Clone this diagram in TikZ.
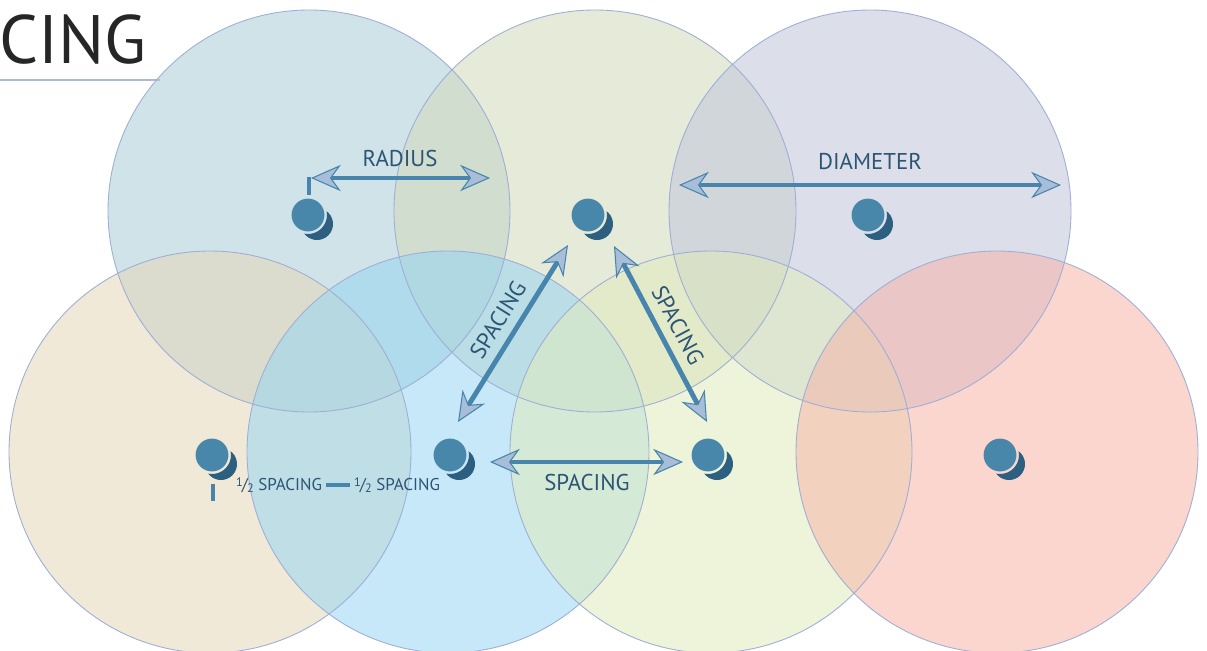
\documentclass[tikz,border=0pt]{standalone}
\usepackage{fontspec}
\setmainfont{PT Sans}
\usetikzlibrary{arrows.meta}

\definecolor{ringline}{RGB}{158,174,214}
\definecolor{ruleline}{RGB}{170,186,212}
\definecolor{shaft}{RGB}{72,133,172}
\definecolor{tipfill}{RGB}{168,189,216}
\definecolor{labeltext}{RGB}{44,84,116}
\definecolor{seedface}{RGB}{73,135,170}
\definecolor{seedshade}{RGB}{45,95,128}
\definecolor{zoneA}{RGB}{168,204,215}
\definecolor{zoneB}{RGB}{209,217,186}
\definecolor{zoneC}{RGB}{191,197,217}
\definecolor{zoneD}{RGB}{229,215,184}
\definecolor{zoneE}{RGB}{151,213,242}
\definecolor{zoneF}{RGB}{224,235,188}
\definecolor{zoneG}{RGB}{246,180,168}

\tikzset{
  zone/.style={fill=#1, fill opacity=0.55},
  rim/.style={draw=ringline, line width=0.5pt},
  measure/.style={draw=shaft, line width=2.8pt,
    {Stealth[length=17pt,width=15pt,inset=5.5pt,fill=tipfill,line width=0.6pt]}-{Stealth[length=17pt,width=15pt,inset=5.5pt,fill=tipfill,line width=0.6pt]}},
  tick/.style={draw=shaft, line width=2.8pt},
  tag/.style={text=labeltext, inner sep=0pt, font=\fontsize{13}{13}\selectfont},
  halftag/.style={text=labeltext, inner sep=0pt, font=\fontsize{9.7}{9.7}\selectfont},
  seed/.style={circle, fill=seedface, inner sep=0pt, minimum size=18.7pt},
}

% seed dot with its shaded crescent: name, position
\newcommand\seed[2]{%
  \begin{scope}[shift={#2}, even odd rule]
    \clip (-40,-40) rectangle (40,40) (0,0) circle (19);
    \fill[seedshade] (9,9) circle (16);
  \end{scope}
  \node[seed] (#1) at #2 {};}

\newcommand\half{\raisebox{0.45ex}{\scriptsize 1}\kern-0.05em/\kern-0.05em\raisebox{-0.25ex}{\scriptsize 2}}

\begin{document}
\begin{tikzpicture}[x=0.02cm,y=-0.02cm]
    \useasboundingbox (0,0) rectangle (1207,650);
    \clip (0,0) rectangle (1207,650);

    \node[anchor=base west, inner sep=0pt, text=black!85, font=\fontsize{39}{39}\selectfont] (title) at (-1,63) {CING};
    \draw[ruleline, line width=0.9pt] (0,80) -- (160,80);

    \coordinate (cA) at (309,211);
    \coordinate (cB) at (595,211);
    \coordinate (cC) at (870,211);
    \coordinate (cD) at (210,452);
    \coordinate (cE) at (448,452);
    \coordinate (cF) at (711,452);
    \coordinate (cG) at (997,452);

    \fill[zone=zoneA] (cA) circle (201);
    \fill[zone=zoneB] (cB) circle (201);
    \fill[zone=zoneC] (cC) circle (201);
    \fill[zone=zoneD] (cD) circle (201);
    \fill[zone=zoneE] (cE) circle (201);
    \fill[zone=zoneF] (cF) circle (201);
    \fill[zone=zoneG] (cG) circle (201);
    \draw[rim] (cA) circle (201) (cB) circle (201) (cC) circle (201)
               (cD) circle (201) (cE) circle (201) (cF) circle (201) (cG) circle (201);

    \seed{seedA}{(308,215)}
    \seed{seedB}{(588,215)}
    \seed{seedC}{(868,215)}
    \seed{seedD}{(212,455)}
    \seed{seedE}{(450,455)}
    \seed{seedF}{(708,455)}
    \seed{seedG}{(1000,455)}

    % radius
    \coordinate (radL) at (311,178);
    \coordinate (radR) at (490,178);
    \draw[tick] (309,195) -- (309,176.6);
    \draw[measure] (radL) -- (radR);
    \node[tag] (radius) at (400,158) {RADIUS};

    % diameter
    \coordinate (diaL) at (679,185);
    \coordinate (diaR) at (1061,185);
    \draw[measure] (diaL) -- (diaR);
    \node[tag] (diameter) at (870,161) {DIAMETER};

    % spacing between neighbours
    \coordinate (spLa) at (458,422);
    \coordinate (spLb) at (568,245);
    \draw[measure] (spLa) -- (spLb);
    \node[tag, rotate=58] (spaceL) at (498,320) {SPACING};

    \coordinate (spRa) at (614,246);
    \coordinate (spRb) at (707,422);
    \draw[measure] (spRa) -- (spRb);
    \node[tag, rotate=-62] (spaceR) at (678,325) {SPACING};

    \coordinate (spHa) at (490,462);
    \coordinate (spHb) at (683,462);
    \draw[measure] (spHa) -- (spHb);
    \node[tag] (spaceH) at (587,482) {SPACING};

    % half spacing at the edge
    \draw[tick] (213,484) -- (213,501);
    \node[halftag] (halfA) at (279,485) {\half\ SPACING};
    \node[halftag] (halfB) at (397,485) {\half\ SPACING};
    \draw[tick] ([xshift=0.08cm]halfA.east) -- ([xshift=-0.08cm]halfB.west);
\end{tikzpicture}
\end{document}
